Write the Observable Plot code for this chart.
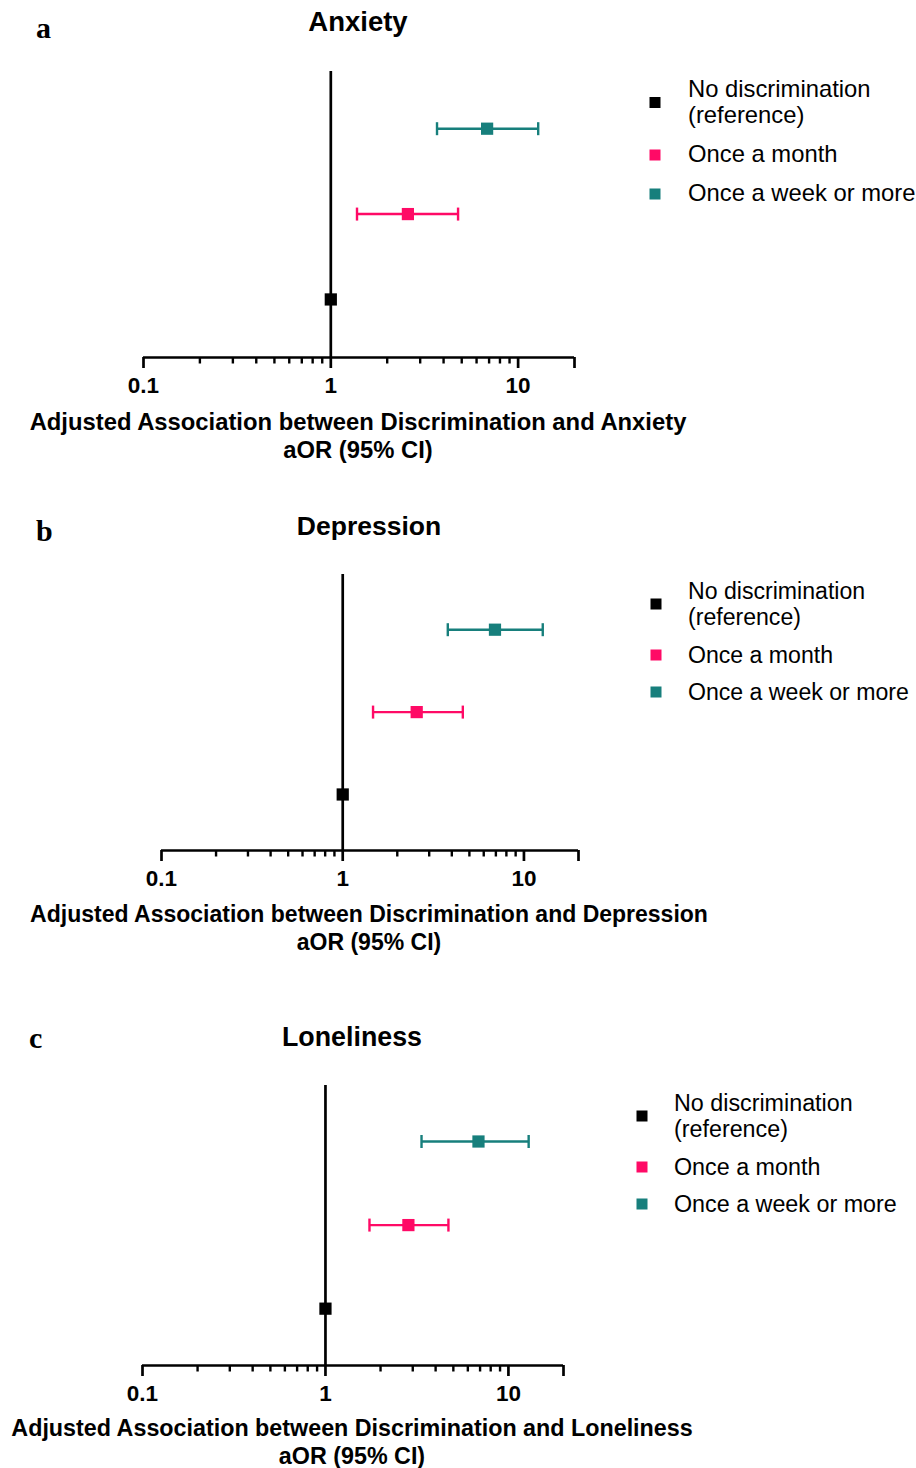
<!DOCTYPE html>
<html><head><meta charset="utf-8">
<script src="https://cdn.jsdelivr.net/npm/d3@7"></script>
<script src="https://cdn.jsdelivr.net/npm/@observablehq/plot@0.6"></script>
<style>
html,body{margin:0;padding:0;background:#fff;}
#page{position:relative;width:916px;height:1468px;overflow:hidden;font-family:"Liberation Sans",Arial,sans-serif;}
#page svg{position:absolute;left:0;}
</style></head><body><div id="page"></div>
<script>
// ---- data ----
const categories = ["No discrimination (reference)", "Once a month", "Once a week or more"];
const legendLines = [["No discrimination", "(reference)"], ["Once a month"], ["Once a week or more"]];
const colors = ["#000000", "#ff0a66", "#177f7c"];
const outcomes = ["Anxiety", "Depression", "Loneliness"];
const panelLetters = ["a", "b", "c"];

const anxietyOR = [1, 2.58, 6.83];
const anxietyLo = [null, 1.38, 3.69];
const anxietyHi = [null, 4.78, 12.8];

const depressionOR = [1, 2.56, 6.92];
const depressionLo = [null, 1.47, 3.80];
const depressionHi = [null, 4.60, 12.7];

const lonelinessOR = [1, 2.84, 6.86];
const lonelinessLo = [null, 1.74, 3.35];
const lonelinessHi = [null, 4.70, 12.9];

const majorTicks = [0.1, 1, 10, 20];
const tickLabels = ["0.1", "1", "10", ""];
const minorTicks = [0.2, 0.3, 0.4, 0.5, 0.6, 0.7, 0.8, 0.9, 2, 3, 4, 5, 6, 7, 8, 9];
const xDomain = [0.1, 20];
const axisTitle2 = "aOR (95% CI)";

// ---- layout (page pixels) ----
const layouts = [
  {x0:143, x1:574, top:71,  axis:357,  cx:358, titleBase:31,   letterX:36, letterBase:38,
   legSqX:655, legTextX:688, legBase:[97,123,162,201], legSq:[102.5,155,194], labelBase:[430,458],
   titleSize:27.5, labelSize:23.8, legSize:23.8},
  {x0:161, x1:578, top:574, axis:850,  cx:369, titleBase:535,  letterX:36, letterBase:541,
   legSqX:656, legTextX:688, legBase:[599,625,663,700], legSq:[604,655,692], labelBase:[922,950],
   titleSize:26.5, labelSize:23.0, legSize:23.1},
  {x0:142, x1:563, top:1085, axis:1365, cx:352, titleBase:1046, letterX:29, letterBase:1048,
   legSqX:642, legTextX:674, legBase:[1111,1137,1175,1212], legSq:[1116,1167,1204], labelBase:[1436,1464],
   titleSize:26.8, labelSize:23.3, legSize:23.3}
];
const series = [
  [anxietyOR, anxietyLo, anxietyHi],
  [depressionOR, depressionLo, depressionHi],
  [lonelinessOR, lonelinessLo, lonelinessHi]
];

const page = document.getElementById("page");
const capSymbol = {draw(ctx, size) { const r = Math.sqrt(size / Math.PI); ctx.moveTo(0, -r); ctx.lineTo(0, r); }};
const yDomain = [0.32, 3.67];
const mt = 10, mb = 50;

series.forEach(([ors, los, his], p) => {
  const L = layouts[p];
  const rows = categories.map((c, i) => ({cat: c, pos: i + 1, aor: ors[i], lo: los[i], hi: his[i], color: colors[i]}));
  const ci = rows.filter(d => d.lo != null);
  const plot = Plot.plot({
    width: 916,
    height: L.axis - L.top + mt + mb,
    marginLeft: L.x0, marginRight: 916 - L.x1, marginTop: mt, marginBottom: mb,
    x: {type: "log", domain: xDomain, axis: null},
    y: {domain: yDomain, axis: null},
    color: {type: "identity"},
    style: {fontFamily: "'Liberation Sans', Arial, sans-serif", fontSize: "22.5px", background: "transparent", overflow: "visible"},
    marks: [
      Plot.ruleY([yDomain[0]], {stroke: "#000", strokeWidth: 2.7}),
      Plot.ruleX([1], {stroke: "#000", strokeWidth: 2.7}),
      Plot.axisX({ticks: minorTicks, tickSize: 6.5, tickFormat: () => "", stroke: "#000", strokeWidth: 2.4}),
      Plot.axisX({ticks: majorTicks, tickSize: 11, tickPadding: 9,
        tickFormat: d => tickLabels[majorTicks.indexOf(d)],
        fontSize: 22.5, fontWeight: "bold", fill: "#000", stroke: "#000", strokeWidth: 2.7}),
      Plot.ruleY(ci, {y: "pos", x1: "lo", x2: "hi", stroke: "color", strokeWidth: 2.4}),
      Plot.dot(ci, {x: "lo", y: "pos", symbol: capSymbol, r: 6.5, stroke: "color", strokeWidth: 2.4, fill: "none"}),
      Plot.dot(ci, {x: "hi", y: "pos", symbol: capSymbol, r: 6.5, stroke: "color", strokeWidth: 2.4, fill: "none"}),
      Plot.dot(rows, {x: "aor", y: "pos", symbol: "square", r: 6.9, fill: "color"})
    ]
  });
  plot.style.top = (L.top - mt) + "px";
  page.appendChild(plot);
});

// ---- text overlay: titles, panel letters, legends, axis titles ----
const ov = d3.select(page).append("svg")
  .attr("width", 916).attr("height", 1468).style("top", "0px")
  .style("font-family", "'Liberation Sans', Arial, sans-serif");

layouts.forEach((L, p) => {
  ov.append("text").attr("x", L.cx).attr("y", L.titleBase).attr("text-anchor", "middle")
    .attr("font-size", L.titleSize).attr("font-weight", "bold").text(outcomes[p]);
  ov.append("text").attr("x", L.letterX).attr("y", L.letterBase)
    .attr("font-family", "'Liberation Serif', 'Times New Roman', serif")
    .attr("font-size", 30).attr("font-weight", "bold").text(panelLetters[p]);
  ov.append("text").attr("x", L.cx).attr("y", L.labelBase[0]).attr("text-anchor", "middle")
    .attr("font-size", L.labelSize).attr("font-weight", "bold")
    .text("Adjusted Association between Discrimination and " + outcomes[p]);
  ov.append("text").attr("x", L.cx).attr("y", L.labelBase[1]).attr("text-anchor", "middle")
    .attr("font-size", L.labelSize).attr("font-weight", "bold").text(axisTitle2);
  let li = 0;
  legendLines.forEach((lines, i) => {
    ov.append("rect").attr("x", L.legSqX - 5.5).attr("y", L.legSq[i] - 5.5)
      .attr("width", 11).attr("height", 11).attr("fill", colors[i]);
    lines.forEach(t => {
      ov.append("text").attr("x", L.legTextX).attr("y", L.legBase[li++])
        .attr("font-size", L.legSize).text(t);
    });
  });
});
</script></body></html>
